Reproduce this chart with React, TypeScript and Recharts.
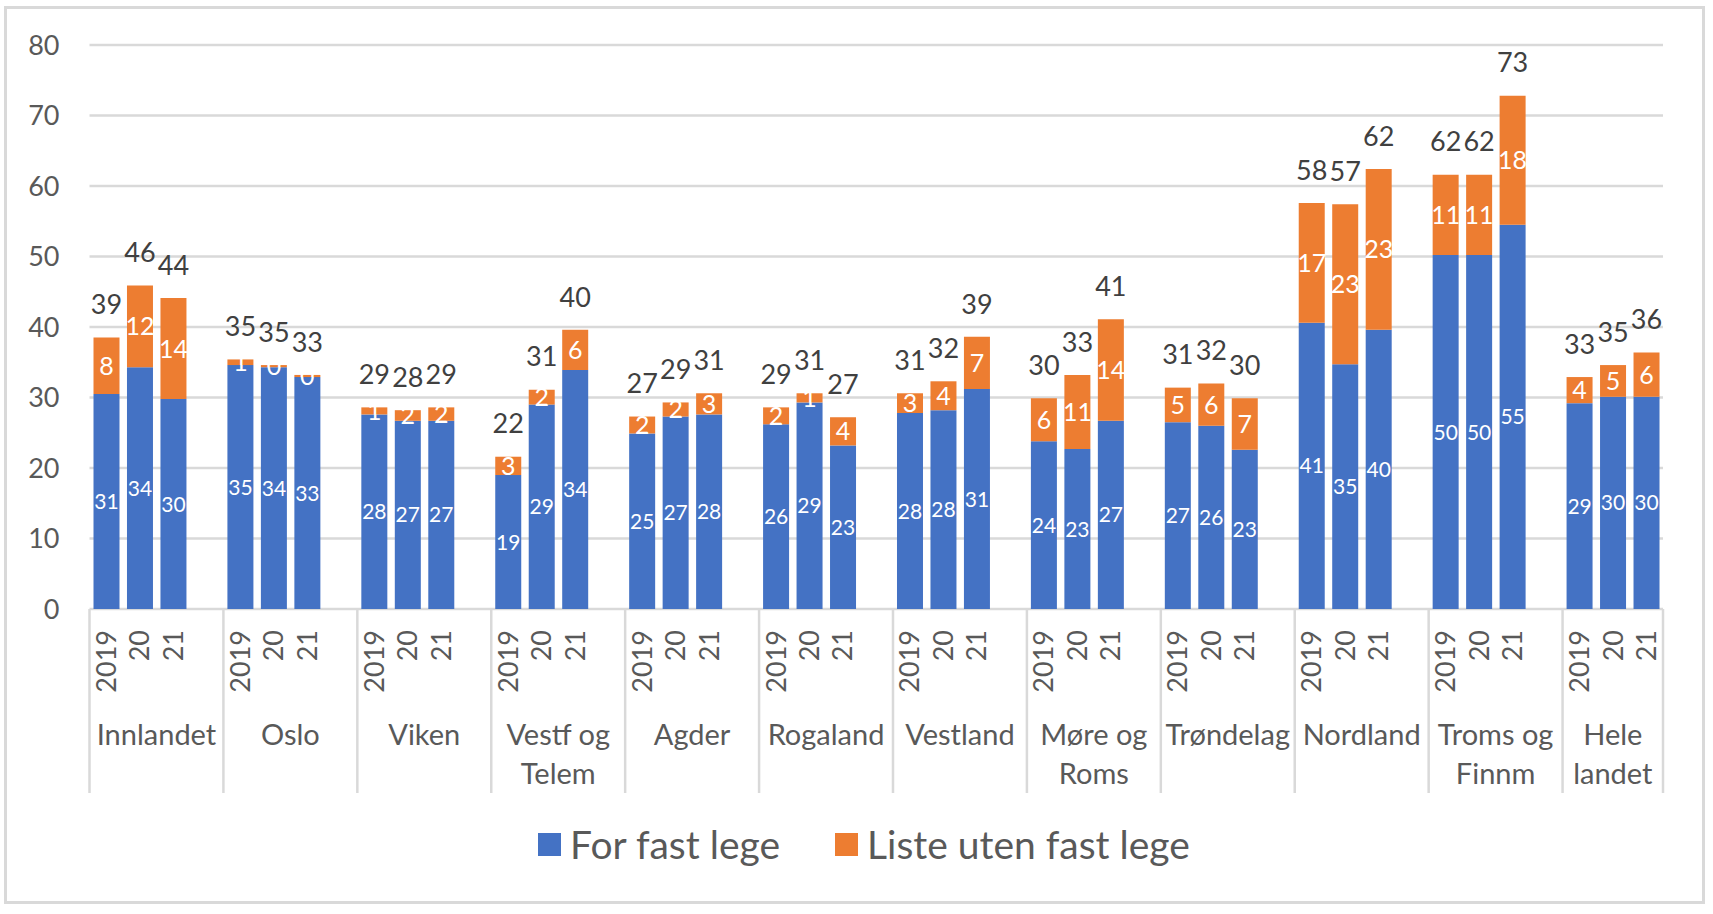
import React from 'react';
import { BarChart, Bar, XAxis, YAxis, CartesianGrid, Legend, LabelList } from 'recharts';

const regions = [
  'Innlandet', 'Oslo', 'Viken', 'Vestf og Telem', 'Agder', 'Rogaland',
  'Vestland', 'Møre og Roms', 'Trøndelag', 'Nordland', 'Troms og Finnm', 'Hele landet',
];
const years = ['2019', '20', '21'];

// per region: 2019, 2020, 2021
const forFastLege = [
  [30.5, 34.3, 29.8],
  [34.6, 34.3, 32.9],
  [27.6, 26.7, 26.7],
  [19.0, 29.0, 33.9],
  [24.9, 27.3, 27.6],
  [26.2, 29.3, 23.2],
  [27.8, 28.2, 31.2],
  [23.8, 22.7, 26.7],
  [26.5, 26.0, 22.6],
  [40.6, 34.7, 39.6],
  [50.2, 50.2, 54.5],
  [29.2, 30.1, 30.1],
];
const utenFastLege = [
  [8.0, 11.6, 14.3],
  [0.8, 0.3, 0.3],
  [1.0, 1.5, 1.9],
  [2.6, 2.1, 5.7],
  [2.4, 2.0, 3.0],
  [2.4, 1.3, 4.0],
  [2.8, 4.1, 7.4],
  [6.1, 10.5, 14.4],
  [4.9, 6.0, 7.3],
  [17.0, 22.7, 22.8],
  [11.4, 11.4, 18.3],
  [3.7, 4.5, 6.3],
];
const seriesNames = ['For fast lege', 'Liste uten fast lege'];
const yTicks = [0, 10, 20, 30, 40, 50, 60, 70, 80];

const FONT = 'Lato, "Noto Sans", sans-serif';
const BLUE = '#4472C4';
const ORANGE = '#ED7D31';
const GRID = '#D9D9D9';
const AXIS_TEXT = '#595959';

const W = 1713;
const H = 914;
const MARGIN = { top: 45, right: 50, bottom: 105, left: 0 };
const Y_AXIS_W = 89.5;

// one slot per year, and an empty slot between regions
type Row = {
  key: string; region: string; year: string; group: number;
  first: boolean; groupSize: number;
  blue: number | null; orange: number | null; total: number | null;
};
const rows: Row[] = [];
regions.forEach((region, r) => {
  const hasGap = r < regions.length - 1;
  const groupSize = years.length + (hasGap ? 1 : 0);
  years.forEach((year, i) => {
    const blue = forFastLege[r][i];
    const orange = utenFastLege[r][i];
    rows.push({ key: `${r}-${i}`, region, year, group: r, first: i === 0, groupSize, blue, orange, total: blue + orange });
  });
  if (hasGap) {
    rows.push({ key: `${r}-gap`, region, year: '', group: r, first: false, groupSize, blue: null, orange: null, total: null });
  }
});
const rowIndex = new Map(rows.map((row, i) => [row.key, i]));
const SLOT = (W - MARGIN.right - MARGIN.left - Y_AXIS_W) / rows.length;

const AxisTick = (props: any) => {
  const { x, y, payload } = props;
  const idx = rowIndex.get(payload.value);
  if (idx === undefined) return null;
  const row = rows[idx];
  const half = typeof payload.offset === 'number' && payload.offset > 0 ? payload.offset : SLOT / 2;
  const slot = half * 2;
  const sepLen = 184;
  const parts: React.ReactNode[] = [];

  if (row.year) {
    const ty = y + 21;
    parts.push(
      <text key="yr" x={x} y={ty} dy="0.36em" transform={`rotate(-90 ${x} ${ty})`} textAnchor="end"
        fill={AXIS_TEXT} fontSize={27} fontFamily={FONT}>{row.year}</text>
    );
  }
  if (row.first) {
    const left = x - half;
    parts.push(<line key="sep" x1={left} x2={left} y1={y} y2={y + sepLen} stroke={GRID} strokeWidth={2.5} />);
    const cx = left + (row.groupSize * slot) / 2;
    const words = row.region.split(' ');
    const lines = words.length > 1 ? [words.slice(0, -1).join(' '), words[words.length - 1]] : words;
    lines.forEach((line, li) => {
      parts.push(
        <text key={`rg${li}`} x={cx} y={y + 136 + li * 39} textAnchor="middle"
          fill={AXIS_TEXT} fontSize={29} fontFamily={FONT}>{line}</text>
      );
    });
  }
  if (idx === rows.length - 1) {
    const right = x + half;
    parts.push(<line key="end" x1={right} x2={right} y1={y} y2={y + sepLen} stroke={GRID} strokeWidth={2.5} />);
  }
  return <g>{parts}</g>;
};

const segmentLabel = (size: number) => (props: any) => {
  const vb = props.viewBox ?? props;
  const { x, y, width, height } = vb;
  const value = props.value;
  if (value == null || !Number.isFinite(x) || !Number.isFinite(y)) return null;
  return (
    <text x={x + width / 2} y={y + height / 2} dy="0.36em" textAnchor="middle"
      fill="#FFFFFF" fontSize={size} fontFamily={FONT}>{Math.round(value)}</text>
  );
};

const totalLabel = (props: any) => {
  const vb = props.viewBox ?? props;
  const { x, y, width } = vb;
  const value = props.value;
  if (value == null || !Number.isFinite(x) || !Number.isFinite(y)) return null;
  return (
    <text x={x + width / 2} y={y - 33} dy="0.36em" textAnchor="middle"
      fill="#404040" fontSize={27} fontFamily={FONT}>{Math.round(value)}</text>
  );
};

const LegendContent = (props: any) => {
  const items = props.payload ?? [];
  return (
    <div style={{ display: 'flex', justifyContent: 'center', alignItems: 'center', gap: 55, paddingLeft: 15,
      fontFamily: FONT, fontSize: 39, color: AXIS_TEXT }}>
      {items.map((it: any) => (
        <div key={it.value} style={{ display: 'flex', alignItems: 'center', gap: 9 }}>
          <span style={{ display: 'inline-block', width: 23, height: 23, background: it.color }} />
          <span>{it.value}</span>
        </div>
      ))}
    </div>
  );
};

const App = () => {
  return (
    <div style={{ position: 'absolute', left: 0, top: 0, width: W, height: H, background: '#fff' }}>
      <div style={{ position: 'absolute', left: 4, top: 6, width: 1701, height: 898, border: `3px solid ${GRID}`, boxSizing: 'border-box' }} />
      <BarChart width={W} height={H} data={rows} margin={MARGIN}>
        <CartesianGrid vertical={false} stroke={GRID} strokeWidth={2.5} />
        <XAxis dataKey="key" type="category" interval={0} axisLine={false} tickLine={false}
          tickSize={0} tickMargin={0} height={200} tick={<AxisTick />} />
        <YAxis domain={[0, 80]} ticks={yTicks} width={Y_AXIS_W} axisLine={false} tickLine={false}
          tickSize={0} tickMargin={30} tick={{ fill: AXIS_TEXT, fontSize: 27, fontFamily: FONT }} />
        <Legend layout="horizontal" verticalAlign="middle" align="center"
          wrapperStyle={{ top: 821, left: 0, width: W }} content={<LegendContent />} />
        <Bar dataKey="blue" name={seriesNames[0]} stackId="a" fill={BLUE} barSize={26} isAnimationActive={false}>
          <LabelList dataKey="blue" content={segmentLabel(21)} />
        </Bar>
        <Bar dataKey="orange" name={seriesNames[1]} stackId="a" fill={ORANGE} barSize={26} isAnimationActive={false}>
          <LabelList dataKey="orange" content={segmentLabel(25)} />
          <LabelList dataKey="total" content={totalLabel} />
        </Bar>
      </BarChart>
    </div>
  );
};

export default App;
